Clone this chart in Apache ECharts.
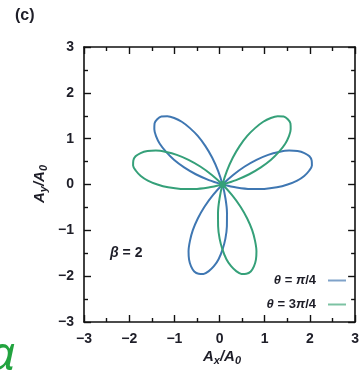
<!DOCTYPE html>
<html>
<head>
<meta charset="utf-8">
<script src="https://cdn.jsdelivr.net/npm/echarts@6/dist/echarts.min.js"></script>
<style>
  html, body { margin: 0; padding: 0; background: #fff; }
  #chart { width: 362px; height: 370px; }
</style>
</head>
<body>
<div id="chart"></div>
<script>
// Axis range and tick labels (A/A0 units)
const axisMin = -3;
const axisMax = 3;
const tickStep = 1;

// Trefoil trajectories in polar form: angle (degrees) and radius (A/A0)
const blueAngle = [
  345, 348, 351, 354, 357, 0, 3, 6, 9, 12, 15, 18, 21, 24, 27, 30, 33, 36, 39, 42, 45,
  225, 228, 231, 234, 237, 240, 243, 246, 249, 252, 255, 258, 261, 264, 267, 270, 273, 276, 279, 282, 285,
  105, 108, 111, 114, 117, 120, 123, 126, 129, 132, 135, 138, 141, 144, 147, 150, 153, 156, 159, 162, 165
];
const blueRadius = [
  0, 0.31, 0.62, 0.91, 1.18, 1.41, 1.62, 1.78, 1.9, 1.98, 2, 1.98, 1.9, 1.78, 1.62, 1.41, 1.18, 0.91, 0.62, 0.31, 0,
  0, 0.31, 0.62, 0.91, 1.18, 1.41, 1.62, 1.78, 1.9, 1.98, 2, 1.98, 1.9, 1.78, 1.62, 1.41, 1.18, 0.91, 0.62, 0.31, 0,
  0, 0.31, 0.62, 0.91, 1.18, 1.41, 1.62, 1.78, 1.9, 1.98, 2, 1.98, 1.9, 1.78, 1.62, 1.41, 1.18, 0.91, 0.62, 0.31, 0
];
const greenAngle = [
  15, 18, 21, 24, 27, 30, 33, 36, 39, 42, 45, 48, 51, 54, 57, 60, 63, 66, 69, 72, 75,
  255, 258, 261, 264, 267, 270, 273, 276, 279, 282, 285, 288, 291, 294, 297, 300, 303, 306, 309, 312, 315,
  135, 138, 141, 144, 147, 150, 153, 156, 159, 162, 165, 168, 171, 174, 177, 180, 183, 186, 189, 192, 195
];
const greenRadius = [
  0, 0.31, 0.62, 0.91, 1.18, 1.41, 1.62, 1.78, 1.9, 1.98, 2, 1.98, 1.9, 1.78, 1.62, 1.41, 1.18, 0.91, 0.62, 0.31, 0,
  0, 0.31, 0.62, 0.91, 1.18, 1.41, 1.62, 1.78, 1.9, 1.98, 2, 1.98, 1.9, 1.78, 1.62, 1.41, 1.18, 0.91, 0.62, 0.31, 0,
  0, 0.31, 0.62, 0.91, 1.18, 1.41, 1.62, 1.78, 1.9, 1.98, 2, 1.98, 1.9, 1.78, 1.62, 1.41, 1.18, 0.91, 0.62, 0.31, 0
];

const seriesNames = ['θ = π/4', 'θ = 3π/4'];
const seriesRich = ['{i|θ} = {i|π}/4', '{i|θ} = 3{i|π}/4'];

const BLUE = '#3f77b2';
const GREEN = '#35a079';
const INK = '#1e1e28';
const FONT = '"Liberation Sans", Arial, sans-serif';

// [radius, angle] pairs; the crossing point at the origin is marked with a dot
const toPairs = (r, a, dot) => r.map((v, i) => (dot && i === 0)
  ? { value: [v, a[i]], symbol: 'circle', symbolSize: 7 }
  : [v, a[i]]);
const minusFmt = v => String(v).replace('-', '\u2212');

const gridBox = { left: 84, top: 47, width: 277, height: 275 };

function valueAxis(position, showLabel) {
  return {
    type: 'value',
    position: position,
    min: axisMin, max: axisMax, interval: tickStep,
    axisLine: { show: true, onZero: false, lineStyle: { color: '#111', width: 1.6 } },
    axisTick: { show: true, inside: true, length: 7, lineStyle: { color: '#111', width: 1.4 } },
    minorTick: { show: true, splitNumber: 2, length: 4, lineStyle: { color: '#111', width: 1.4 } },
    splitLine: { show: false },
    axisLabel: {
      show: showLabel, margin: 10, fontSize: 14, fontWeight: 'bold',
      color: INK, fontFamily: FONT, formatter: minusFmt
    }
  };
}

const chart = echarts.init(document.getElementById('chart'), null, { renderer: 'canvas' });

chart.setOption({
  animation: false,
  backgroundColor: '#fff',
  grid: { left: gridBox.left, top: gridBox.top, width: gridBox.width, height: gridBox.height, show: false },
  xAxis: [valueAxis('bottom', true), valueAxis('top', false)],
  yAxis: [valueAxis('left', true), valueAxis('right', false)],
  polar: {
    center: [gridBox.left + gridBox.width / 2, gridBox.top + gridBox.height / 2],
    radius: gridBox.width / 2
  },
  radiusAxis: { type: 'value', min: 0, max: 3, show: false },
  angleAxis: { type: 'value', min: 0, max: 360, startAngle: 0, clockwise: false, show: false },
  legend: {
    orient: 'vertical',
    right: 11,
    top: 269,
    align: 'right',
    icon: 'rect',
    itemWidth: 18,
    itemHeight: 2,
    itemGap: 11,
    selectedMode: false,
    data: [
      { name: seriesNames[0], itemStyle: { color: '#7fa2c9' } },
      { name: seriesNames[1], itemStyle: { color: '#7cc2a3' } }
    ],
    formatter: name => seriesRich[seriesNames.indexOf(name)],
    textStyle: {
      fontSize: 13, fontWeight: 'bold', color: INK, fontFamily: FONT,
      padding: [0, 7, 0, 0],
      rich: { i: { fontSize: 13, fontWeight: 'bold', fontStyle: 'italic', color: INK, fontFamily: FONT } }
    }
  },
  series: [
    {
      name: seriesNames[0], type: 'line', coordinateSystem: 'polar',
      data: toPairs(blueRadius, blueAngle, false), symbol: 'none',
      smooth: 0.3, lineStyle: { color: BLUE, width: 2 }, itemStyle: { color: BLUE }
    },
    {
      name: seriesNames[1], type: 'line', coordinateSystem: 'polar',
      data: toPairs(greenRadius, greenAngle, true), symbol: 'none',
      smooth: 0.3, lineStyle: { color: GREEN, width: 2 }, itemStyle: { color: GREEN }
    }
  ],
  graphic: [
    {
      type: 'text', left: 15, top: 8,
      style: { text: '(c)', fontSize: 16, fontWeight: 'bold', fill: INK, fontFamily: FONT }
    },
    {
      type: 'text', x: 110, y: 253,
      style: {
        text: '{i|β} = 2', fontSize: 14, fontWeight: 'bold', fill: INK, fontFamily: FONT,
        verticalAlign: 'middle',
        rich: { i: { fontSize: 14, fontWeight: 'bold', fontStyle: 'italic', fontFamily: FONT } }
      }
    },
    {
      type: 'text', x: 222, y: 361,
      style: {
        text: '{a|A}{s|x}{a|/A}{s|0}', align: 'center', verticalAlign: 'middle', fill: INK,
        rich: {
          a: { fontSize: 15, fontWeight: 'bold', fontStyle: 'italic', fontFamily: FONT, verticalAlign: 'top', lineHeight: 15 },
          s: { fontSize: 11, fontWeight: 'bold', fontStyle: 'italic', fontFamily: FONT, lineHeight: 24 }
        }
      }
    },
    {
      type: 'text', x: 44, y: 184, rotation: Math.PI / 2,
      style: {
        text: '{a|A}{s|y}{a|/A}{s|0}', align: 'center', verticalAlign: 'middle', fill: INK,
        rich: {
          a: { fontSize: 15, fontWeight: 'bold', fontStyle: 'italic', fontFamily: FONT, verticalAlign: 'top', lineHeight: 15 },
          s: { fontSize: 11, fontWeight: 'bold', fontStyle: 'italic', fontFamily: FONT, lineHeight: 24 }
        }
      }
    },
    {
      type: 'text', x: -12, y: 356,
      style: {
        text: 'α', fontSize: 48, fontStyle: 'italic', fill: '#22a33f',
        fontFamily: '"Noto Sans", sans-serif', verticalAlign: 'middle'
      }
    }
  ]
});
</script>
</body>
</html>
